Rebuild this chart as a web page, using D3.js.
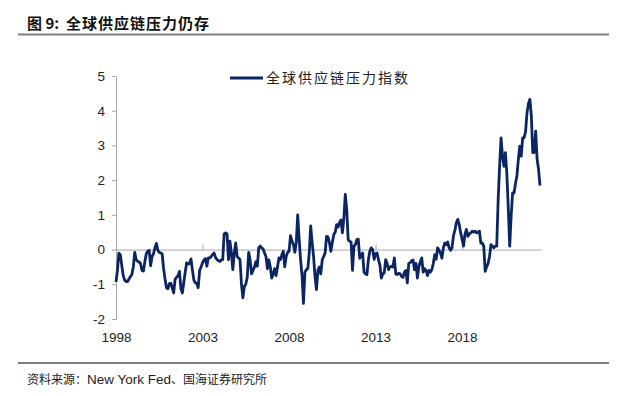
<!DOCTYPE html>
<html>
<head>
<meta charset="utf-8">
<script src="https://cdn.jsdelivr.net/npm/d3@7"></script>
<style>
  body { margin: 0; background: #fff; }
  svg { display: block; }
</style>
</head>
<body>
<div id="root"></div>
<script>
// Global Supply Chain Pressure Index, monthly, Jan 1998 - Jul 2022
const startYear = 1998;
const gscpi = [
  // 1998
  -0.93, -0.6, -0.1, -0.15, -0.45, -0.75, -0.88, -0.92, -0.92, -0.85, -0.78, -0.72,
  // 1999
  -0.5, -0.08, -0.3, -0.33, -0.36, -0.4, -0.6, -0.62, -0.35, -0.12, -0.05, -0.02,
  // 2000
  -0.47, -0.2, -0.12, 0.05, 0.18, -0.02, -0.08, -0.1, -0.12, -0.55, -0.85, -1.1,
  // 2001
  -1.13, -0.98, -0.97, -1.1, -1.25, -0.85, -0.8, -0.75, -0.63, -1.12, -1.25, -0.95,
  // 2002
  -0.65, -0.38, -0.42, -0.4, -0.27, -0.6, -0.88, -0.96, -0.97, -1.1, -0.6, -0.5,
  // 2003
  -0.38, -0.3, -0.26, -0.48, -0.24, -0.24, -0.2, -0.14, -0.1, -0.22, -0.29, -0.32,
  // 2004
  -0.34, -0.3, -0.29, 0.45, 0.48, 0.45, -0.29, 0.24, -0.1, -0.58, -0.1, 0.19,
  // 2005
  -0.2, -0.24, -0.29, -1.0, -1.39, -1.06, -1.0, -0.8, -0.08, -0.3, -0.7, -0.6,
  // 2006
  -0.5, -0.35, -0.48, 0.05, 0.1, 0.05, 0.02, -0.1, -0.2, -0.55, -0.3, -0.5,
  // 2007
  -0.82, -0.7, -0.55, -0.75, -0.5, -0.24, -0.29, -0.15, -0.05, -0.5, -0.2, -0.08,
  // 2008
  -0.05, 0.4, 0.25, 0.15, -0.08, 0.2, 1.0, 0.3, -0.3, -0.75, -1.55, -0.65,
  // 2009
  -0.58, -0.55, -0.1, 0.68, 0.2, -0.2, -0.77, -1.15, -0.6, -0.5, -0.7, -0.3,
  // 2010
  -0.2, -0.1, 0.38, 0.36, 0.2, -0.05, 0.2, 0.43, 0.5, 0.72, 0.65, 0.78,
  // 2011
  0.85, 0.48, 0.9, 1.59, 1.15, 0.28, 0.24, 0.22, -0.6, 0.1, 0.14, 0.29,
  // 2012
  0.3, -0.25, -0.15, -0.1, -0.65, -0.7, -0.72, -0.3, -0.05, 0.05, 0.0, -0.28,
  // 2013
  -0.12, -0.1, -0.29, -0.45, -0.82, -0.7, -0.67, -0.29, -0.4, -0.58, -0.5, -0.48,
  // 2014
  -0.5, -0.24, -0.7, -0.72, -0.68, -0.7, -0.77, -0.8, -0.65, -0.6, -0.96, -0.4,
  // 2015
  -0.38, -0.32, -0.3, -0.58, -0.4, -0.82, -0.5, -0.35, -0.24, -0.65, -0.55, -0.6,
  // 2016
  -0.75, -0.6, -0.65, -0.58, -0.4, -0.15, -0.28, 0.05, -0.02, -0.1, -0.25, 0.05,
  // 2017
  0.19, 0.14, 0.22, 0.05, -0.02, 0.05, 0.4, 0.55, 0.77, 0.87, 0.72, 0.48,
  // 2018
  0.3, 0.1, 0.45, 0.58, 0.38, 0.45, 0.48, 0.53, 0.5, 0.53, 0.48, 0.5,
  // 2019
  0.53, 0.19, 0.19, 0.1, -0.63, -0.5, -0.4, -0.2, 0.14, 0.1, 0.05, 0.1,
  // 2020
  0.1, 1.44, 2.4, 3.22, 2.69, 2.4, 2.79, 2.2, 1.2, 0.1, 0.96, 1.63,
  // 2021
  1.63, 1.9, 2.12, 2.6, 2.98, 2.69, 3.22, 3.22, 3.4, 3.94, 4.2, 4.33,
  // 2022
  3.85, 2.79, 2.8, 3.41, 2.6, 2.31, 1.84
];
const yTicks = [-2, -1, 0, 1, 2, 3, 4, 5];
const xTickYears = [1998, 2003, 2008, 2013, 2018];

const titleNo = "图 9:";
const titleText = "全球供应链压力仍存";
const seriesName = "全球供应链压力指数";
const sourceParts = ["资料来源：", "New York Fed", "、国海证券研究所"];

const w = 619;
const h = 396;
const plotLeft = 116, plotRight = 541, plotTop = 76, plotBottom = 319;

const svg = d3.select("#root")
  .append("svg")
  .attr("width", w)
  .attr("height", h);

const cjk = "'Noto Sans CJK SC', 'Noto Sans', sans-serif";
const latin = "'Liberation Sans', Arial, sans-serif";

// Title + rules
svg.append("text")
  .attr("x", 27).attr("y", 29)
  .attr("font-family", cjk).attr("font-weight", "bold")
  .attr("font-size", 15).attr("fill", "#111")
  .text(titleNo);
svg.append("text")
  .attr("x", 66).attr("y", 29)
  .attr("font-family", cjk).attr("font-weight", "bold")
  .attr("font-size", 15).attr("letter-spacing", 1).attr("fill", "#111")
  .text(titleText);

svg.append("line")
  .attr("x1", 18).attr("x2", 609).attr("y1", 34.5).attr("y2", 34.5)
  .attr("stroke", "#808080").attr("stroke-width", 2);
svg.append("line")
  .attr("x1", 18).attr("x2", 609).attr("y1", 363).attr("y2", 363)
  .attr("stroke", "#808080").attr("stroke-width", 2);

// Scales
const x = d3.scaleLinear()
  .domain([startYear, startYear + 294.7 / 12])
  .range([plotLeft, plotRight]);
const y = d3.scaleLinear()
  .domain([-2, 5])
  .range([plotBottom, plotTop]);

// Y axis
const yAxis = svg.append("g")
  .attr("transform", `translate(${plotLeft},0)`)
  .call(d3.axisLeft(y).tickValues(yTicks).tickSize(4).tickSizeOuter(0).tickPadding(7).tickFormat(d => String(d)));
yAxis.select(".domain").attr("stroke", "#a6a6a6");
yAxis.selectAll(".tick line").attr("stroke", "#a6a6a6");
yAxis.selectAll("text")
  .attr("font-family", latin).attr("font-size", 13.5).attr("fill", "#222");

// Zero line with small ticks
const zeroAxis = svg.append("g")
  .attr("transform", `translate(0,${y(0)})`)
  .call(d3.axisTop(x).tickValues(xTickYears.slice(1)).tickSize(5).tickSizeOuter(0).tickFormat(""));
zeroAxis.select(".domain").attr("stroke", "#a6a6a6");
zeroAxis.selectAll(".tick line").attr("stroke", "#a6a6a6");

// X labels
const xAxis = svg.append("g")
  .attr("transform", `translate(0,${plotBottom})`)
  .call(d3.axisBottom(x).tickValues(xTickYears).tickSize(0).tickPadding(13).tickFormat(d => String(d)));
xAxis.select(".domain").remove();
xAxis.selectAll("text")
  .attr("font-family", latin).attr("font-size", 13.5).attr("fill", "#222");

// Series line
const line = d3.line()
  .x((d, i) => x(startYear + i / 12))
  .y(d => y(d));

svg.append("path")
  .datum(gscpi)
  .attr("d", line)
  .attr("fill", "none")
  .attr("stroke", "#0b2562")
  .attr("stroke-width", 2.8)
  .attr("stroke-linejoin", "round");

// Legend
const legend = svg.append("g").attr("transform", "translate(230,78)");
legend.append("line")
  .attr("x1", 0).attr("x2", 33).attr("y1", 0).attr("y2", 0)
  .attr("stroke", "#0b2562").attr("stroke-width", 3);
legend.append("text")
  .attr("x", 36).attr("y", 5)
  .attr("font-family", cjk).attr("font-size", 14).attr("letter-spacing", 2)
  .attr("fill", "#222")
  .text(seriesName);

// Source note
const src = svg.append("text")
  .attr("x", 27).attr("y", 384)
  .attr("fill", "#222");
src.append("tspan").attr("font-family", cjk).attr("font-size", 12).text(sourceParts[0]);
src.append("tspan").attr("font-family", latin).attr("font-size", 13.5).text(sourceParts[1]);
src.append("tspan").attr("font-family", cjk).attr("font-size", 12).text(sourceParts[2]);
</script>
</body>
</html>
